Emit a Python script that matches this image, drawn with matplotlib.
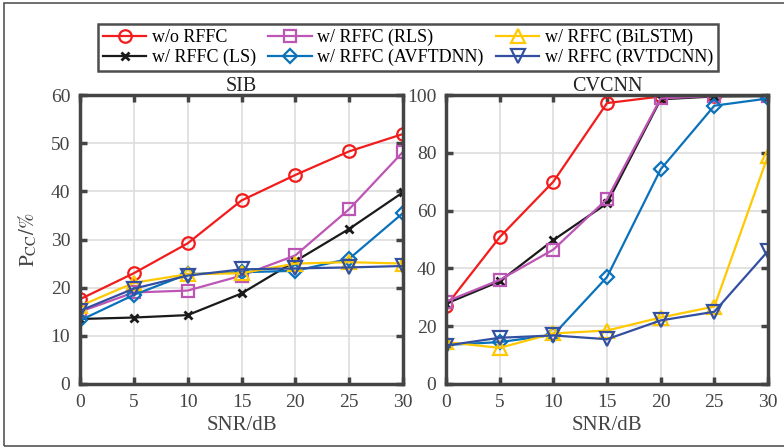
import matplotlib
matplotlib.use("Agg")
import matplotlib.pyplot as plt
from matplotlib.patches import Rectangle

plt.rcParams['font.family'] = ['Liberation Serif', 'DejaVu Serif']
plt.rcParams['mathtext.fontset'] = 'stix'

snr = [0, 5, 10, 15, 20, 25, 30]
labels = ['w/o RFFC', 'w/ RFFC (LS)', 'w/ RFFC (RLS)', 'w/ RFFC (AVFTDNN)',
          'w/ RFFC (BiLSTM)', 'w/ RFFC (RVTDCNN)']

sib_wo      = [17.6, 23.0, 29.2, 38.1, 43.4, 48.3, 51.9]
sib_ls      = [13.5, 13.8, 14.3, 18.8, 25.5, 32.2, 39.8]
sib_rls     = [15.0, 19.0, 19.4, 22.5, 26.7, 36.3, 48.2]
sib_avftdnn = [13.2, 18.5, 22.8, 23.2, 23.5, 26.0, 35.5]
sib_bilstm  = [16.2, 21.0, 22.8, 23.0, 25.0, 25.3, 25.0]
sib_rvtdcnn = [15.2, 19.8, 22.5, 23.8, 24.0, 24.2, 24.5]

cv_wo      = [27.0, 50.8, 70.0, 97.2, 99.5, 99.8, 99.9]
cv_ls      = [27.8, 35.5, 49.8, 62.5, 98.5, 99.5, 99.6]
cv_rls     = [28.5, 36.0, 46.5, 64.0, 98.8, 99.7, 99.8]
cv_avftdnn = [13.5, 14.5, 17.0, 37.0, 74.3, 96.3, 98.8]
cv_bilstm  = [14.5, 12.5, 17.5, 18.5, 23.0, 26.8, 79.0]
cv_rvtdcnn = [13.3, 16.0, 16.8, 15.5, 22.0, 25.0, 46.0]

colors = ['#F21C1C', '#1A1A1A', '#BD55B5', '#0A72BA', '#FFC800', '#3350A0']
markers = ['o', 'x', 's', 'D', '^', 'v']
msizes = [9, 5.5, 8, 7, 10, 10]

fig = plt.figure(figsize=(7.84, 4.48), dpi=100)
fig.patches.append(Rectangle((4/784, 2/448), 1.0, 443/448, transform=fig.transFigure,
                             fill=False, edgecolor='#555555', linewidth=1.2))

ax1 = fig.add_axes([80/784, 1-384/448, 323/784, 289/448])
ax2 = fig.add_axes([446/784, 1-384/448, 322/784, 289/448])

def draw(ax, series, ylim, yticks, title, ylabel=None):
    handles = []
    for data, c, m, ms, lab in zip(series, colors, markers, msizes, labels):
        kw = dict(color=c, marker=m, markersize=ms, linewidth=1.6,
                  markerfacecolor='none', markeredgecolor=c, markeredgewidth=1.6, label=lab)
        if m == 'x':
            kw['markeredgewidth'] = 2.0
        h, = ax.plot(snr, data, **kw)
        handles.append(h)
    ax.set_xlim(0, 30)
    ax.set_ylim(*ylim)
    ax.set_xticks(snr)
    ax.set_yticks(yticks)
    ax.grid(True, color='#DDDDDD', linewidth=1.2)
    ax.set_axisbelow(True)
    for s in ax.spines.values():
        s.set_linewidth(2.5)
        s.set_color('#444444')
    ax.tick_params(direction='in', length=5, width=2.5, color='#444444',
                   top=True, right=True, labelsize=14, labelcolor='#444444', pad=7)
    ax.set_title(title, fontsize=14.5, color='#222222', pad=3)
    ax.set_xlabel('SNR/dB', fontsize=15, color='#444444', labelpad=4)
    if ylabel:
        ax.set_ylabel(ylabel, fontsize=15, color='#444444', labelpad=8)
    return handles

handles = draw(ax1, [sib_wo, sib_ls, sib_rls, sib_avftdnn, sib_bilstm, sib_rvtdcnn],
               (0, 60), [0, 10, 20, 30, 40, 50, 60], 'SIB', r'$\mathrm{P}_{\mathrm{CC}}/\%$')
draw(ax2, [cv_wo, cv_ls, cv_rls, cv_avftdnn, cv_bilstm, cv_rvtdcnn],
     (0, 100), [0, 20, 40, 60, 80, 100], 'CVCNN')

leg = fig.legend(handles=handles, labels=labels, ncol=3, loc='center',
                 bbox_to_anchor=(408/784, 1-47.5/448), fontsize=13,
                 frameon=True, fancybox=False, edgecolor='#222222',
                 handlelength=2.4, handletextpad=0.3, columnspacing=0.7,
                 borderpad=0.25, labelspacing=0.15)
leg.get_frame().set_linewidth(1.8)

fig.savefig('out.png', dpi=100)
